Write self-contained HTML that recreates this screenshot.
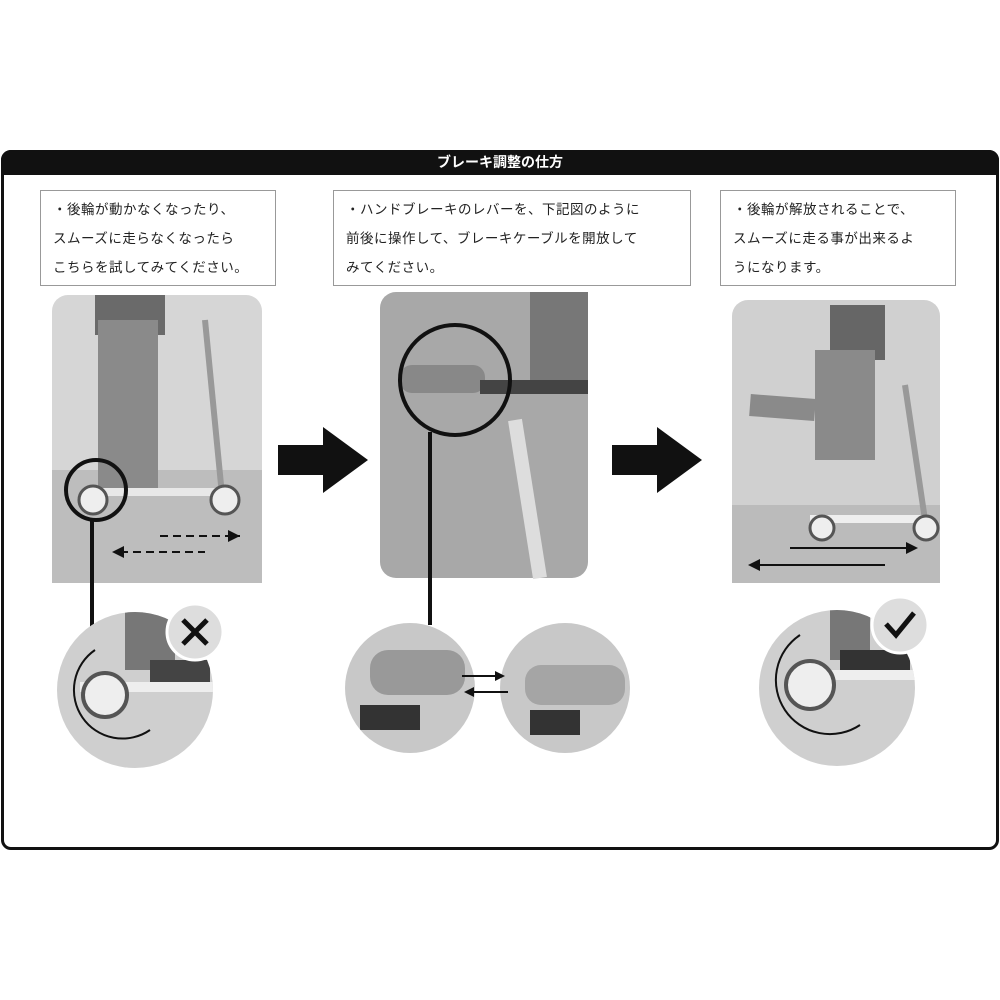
<!DOCTYPE html>
<html><head><meta charset="utf-8"><style>
html,body{margin:0;padding:0;background:#fff;width:1000px;height:1000px;overflow:hidden}
body{position:relative;font-family:"Liberation Sans","Noto Sans CJK JP",sans-serif}
.frame{position:absolute;left:1px;top:150px;width:992px;height:694px;border:3px solid #111;border-radius:10px}
.head{position:absolute;left:1px;top:150px;width:998px;height:25px;background:#111;border-radius:10px 10px 0 0;color:#fff;font-weight:bold;font-size:14px;text-align:center;line-height:25px}
.tb{position:absolute;top:190px;height:96px;border:1px solid #999;box-sizing:border-box;font-size:13.5px;line-height:29px;padding:4px 0 0 12px;color:#222;letter-spacing:0.5px}
svg{position:absolute;left:0;top:0}
</style></head><body>
<div class="frame"></div>
<div class="head">ブレーキ調整の仕方</div>
<div class="tb" style="left:40px;width:236px">・後輪が動かなくなったり、<br>スムーズに走らなくなったら<br>こちらを試してみてください。</div>
<div class="tb" style="left:333px;width:358px">・ハンドブレーキのレバーを、下記図のように<br>前後に操作して、ブレーキケーブルを開放して<br>みてください。</div>
<div class="tb" style="left:720px;width:236px">・後輪が解放されることで、<br>スムーズに走る事が出来るよ<br>うになります。</div>
<svg width="1000" height="1000" viewBox="0 0 1000 1000">
<defs>
<clipPath id="c1"><circle cx="135" cy="690" r="78"/></clipPath>
<clipPath id="c2"><circle cx="410" cy="688" r="65"/></clipPath>
<clipPath id="c3"><circle cx="565" cy="688" r="65"/></clipPath>
<clipPath id="c4"><circle cx="837" cy="688" r="78"/></clipPath>
</defs>
<!-- photo 1 -->
<rect x="52" y="295" width="210" height="288" rx="16" fill="#d6d6d6"/>
<rect x="52" y="470" width="210" height="113" fill="#bdbdbd"/>
<rect x="95" y="295" width="70" height="40" fill="#6a6a6a"/>
<rect x="98" y="320" width="60" height="170" fill="#8a8a8a"/>
<line x1="205" y1="320" x2="222" y2="495" stroke="#999" stroke-width="6"/>
<rect x="85" y="488" width="150" height="8" fill="#e8e8e8"/>
<circle cx="93" cy="500" r="14" fill="#eee" stroke="#555" stroke-width="3"/>
<circle cx="225" cy="500" r="14" fill="#eee" stroke="#555" stroke-width="3"/>
<circle cx="96" cy="490" r="30" fill="none" stroke="#111" stroke-width="4"/>
<line x1="160" y1="536" x2="240" y2="536" stroke="#111" stroke-width="2" stroke-dasharray="8,5"/>
<path d="M240 536 l-12 -6 v12z" fill="#111"/>
<line x1="120" y1="552" x2="205" y2="552" stroke="#111" stroke-width="2" stroke-dasharray="8,5"/>
<path d="M112 552 l12 -6 v12z" fill="#111"/>
<line x1="92" y1="520" x2="92" y2="630" stroke="#111" stroke-width="4"/>
<!-- photo 2 -->
<rect x="380" y="292" width="208" height="286" rx="16" fill="#a8a8a8"/>
<rect x="530" y="292" width="58" height="90" fill="#777"/>
<rect x="400" y="365" width="85" height="28" rx="12" fill="#888"/>
<rect x="480" y="380" width="108" height="14" fill="#444"/>
<line x1="515" y1="420" x2="540" y2="578" stroke="#ddd" stroke-width="14"/>
<circle cx="455" cy="380" r="55" fill="none" stroke="#111" stroke-width="4"/>
<line x1="430" y1="432" x2="430" y2="625" stroke="#111" stroke-width="4"/>
<!-- photo 3 -->
<rect x="732" y="300" width="208" height="283" rx="16" fill="#d0d0d0"/>
<rect x="732" y="505" width="208" height="78" fill="#bbb"/>
<rect x="830" y="305" width="55" height="55" fill="#666"/>
<rect x="815" y="350" width="60" height="110" fill="#8a8a8a"/>
<line x1="815" y1="410" x2="750" y2="405" stroke="#8a8a8a" stroke-width="22"/>
<line x1="905" y1="385" x2="925" y2="520" stroke="#999" stroke-width="6"/>
<rect x="810" y="515" width="120" height="8" fill="#eee"/>
<circle cx="822" cy="528" r="12" fill="#eee" stroke="#555" stroke-width="3"/>
<circle cx="926" cy="528" r="12" fill="#eee" stroke="#555" stroke-width="3"/>
<line x1="790" y1="548" x2="915" y2="548" stroke="#111" stroke-width="2"/>
<path d="M918 548 l-12 -6 v12z" fill="#111"/>
<line x1="755" y1="565" x2="885" y2="565" stroke="#111" stroke-width="2"/>
<path d="M748 565 l12 -6 v12z" fill="#111"/>
<!-- big arrows -->
<path d="M278 445 h45 v-18 l45 33 l-45 33 v-18 h-45z" fill="#111"/>
<path d="M612 445 h45 v-18 l45 33 l-45 33 v-18 h-45z" fill="#111"/>
<!-- circle 1 -->
<g clip-path="url(#c1)"><rect x="50" y="600" width="170" height="180" fill="#cfcfcf"/>
<rect x="125" y="600" width="50" height="70" fill="#777"/><rect x="150" y="660" width="60" height="25" fill="#444"/>
<rect x="80" y="682" width="140" height="10" fill="#eee"/><circle cx="105" cy="695" r="22" fill="#eee" stroke="#555" stroke-width="4"/></g>
<path d="M95 650 A48 48 0 1 0 150 730" fill="none" stroke="#111" stroke-width="2"/>
<circle cx="195" cy="632" r="28" fill="#ddd" stroke="#fff" stroke-width="3"/>
<path d="M183 620 l24 24 M207 620 l-24 24" stroke="#111" stroke-width="5"/>
<!-- circles 2 -->
<g clip-path="url(#c2)"><rect x="340" y="620" width="140" height="140" fill="#c8c8c8"/>
<rect x="370" y="650" width="95" height="45" rx="18" fill="#999"/><rect x="360" y="705" width="60" height="25" fill="#333"/></g>
<g clip-path="url(#c3)"><rect x="495" y="620" width="140" height="140" fill="#c8c8c8"/>
<rect x="525" y="665" width="100" height="40" rx="16" fill="#a5a5a5"/><rect x="530" y="710" width="50" height="25" fill="#333"/></g>
<line x1="462" y1="676" x2="500" y2="676" stroke="#111" stroke-width="2"/><path d="M505 676 l-10 -5 v10z" fill="#111"/>
<line x1="470" y1="692" x2="508" y2="692" stroke="#111" stroke-width="2"/><path d="M464 692 l10 -5 v10z" fill="#111"/>
<!-- circle 4 -->
<g clip-path="url(#c4)"><rect x="755" y="600" width="170" height="180" fill="#cfcfcf"/>
<rect x="830" y="600" width="40" height="60" fill="#777"/><rect x="840" y="650" width="70" height="22" fill="#333"/>
<rect x="790" y="670" width="140" height="10" fill="#eee"/><circle cx="810" cy="685" r="24" fill="#eee" stroke="#555" stroke-width="4"/></g>
<path d="M800 635 A52 52 0 1 0 860 725" fill="none" stroke="#111" stroke-width="2"/>
<circle cx="900" cy="625" r="28" fill="#ddd" stroke="#fff" stroke-width="3"/>
<path d="M886 624 l10 11 l18 -22" fill="none" stroke="#111" stroke-width="5"/>
</svg>
</body></html>
